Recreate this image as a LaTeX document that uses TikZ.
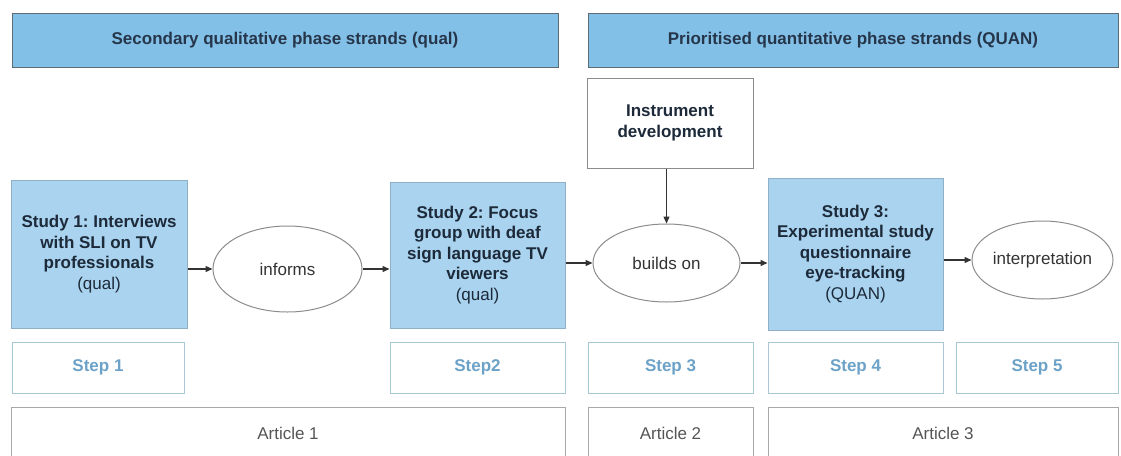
\documentclass[tikz,border=0pt]{standalone}
\usepackage{fontspec}
\setsansfont{Liberation Sans}
\usepackage{tikz}
\usetikzlibrary{positioning,arrows.meta,shapes.geometric,calc}
\frenchspacing
\definecolor{headFill}{HTML}{83C0E8}
\definecolor{headLine}{HTML}{5F6B73}
\definecolor{headText}{HTML}{26364A}
\definecolor{studyFill}{HTML}{A9D3EE}
\definecolor{studyLine}{HTML}{8FB0C6}
\definecolor{studyText}{HTML}{1D2A3A}
\definecolor{ovalLine}{HTML}{8C8C8C}
\definecolor{stepLine}{HTML}{A8C8D8}
\definecolor{stepText}{HTML}{6DA2C8}
\definecolor{artLine}{HTML}{A8A8A8}
\definecolor{artText}{HTML}{555555}
\definecolor{flowCol}{HTML}{333333}
\tikzset{
  base/.style={font=\sffamily\fontsize{17}{20.5}\selectfont, align=center,
    inner sep=0pt, line width=1pt},
  header/.style={base, draw=headLine, fill=headFill, text=headText,
    font=\sffamily\bfseries\fontsize{17}{20.5}\selectfont, minimum height=54pt},
  study/.style={base, draw=studyLine, fill=studyFill, text=studyText,
    font=\sffamily\bfseries\fontsize{17}{20.5}\selectfont},
  instr/.style={base, draw=ovalLine, fill=white, text=studyText,
    font=\sffamily\bfseries\fontsize{17}{20.5}\selectfont},
  oval/.style={base, ellipse, draw=ovalLine, text=black!80},
  stepbox/.style={base, draw=stepLine, text=stepText, minimum height=51pt,
    font=\sffamily\bfseries\fontsize{17}{20.5}\selectfont},
  article/.style={base, draw=artLine, text=artText, minimum height=52pt},
  flow/.style={-{Triangle[length=7pt, width=6pt]}, line width=1.3pt, draw=flowCol},
}
\begin{document}
\begin{tikzpicture}[x=1pt, y=-1pt]
  \useasboundingbox (0,0) rectangle (1121,455);
  \clip (0,0) rectangle (1121,455);
  % phase headers
  \node[header, minimum width=546pt] (qual) at (285,40) {Secondary qualitative phase strands (qual)};
  \node[header, minimum width=530pt] (quan) at (853,40) {Prioritised quantitative phase strands (QUAN)};
  % studies and links
  \node[study, minimum width=176pt, minimum height=148pt] (study1) at (99,254)
    {Study 1: Interviews\\ with SLI on TV\\ professionals\\ \mdseries(qual)};
  \node[oval, minimum width=149pt, minimum height=86pt] (informs) at (287.5,269) {informs};
  \node[study, minimum width=175pt, minimum height=146pt] (study2) at (477.5,255)
    {Study 2: Focus\\ group with deaf\\ sign language TV\\ viewers\\ \mdseries(qual)};
  \node[instr, minimum width=166pt, minimum height=90pt] (instr) at (670,123)
    {Instrument\\ development};
  \node[oval, minimum width=147pt, minimum height=78pt] (builds) at (666.5,263) {builds on};
  \node[study, minimum width=175pt, minimum height=152pt] (study3) at (855.5,254)
    {Study 3:\\ Experimental study\\ questionnaire\\ eye-tracking\\ \mdseries(QUAN)};
  \node[oval, minimum width=141pt, minimum height=78pt] (interp) at (1042.5,260) {interpretation};
  \draw[flow] (study1.east |- informs.west) -- (informs.west);
  \draw[flow] (informs.east) -- (informs.east -| study2.west);
  \draw[flow] (study2.east |- builds.west) -- (builds.west);
  \draw[flow] (builds.east) -- (builds.east -| study3.west);
  \draw[flow] (study3.east |- interp.west) -- (interp.west);
  \draw[flow] (instr.south -| builds.north) -- (builds.north);
  % steps
  \node[stepbox, minimum width=172pt] (step1) at (98,367.5) {Step 1};
  \node[stepbox, minimum width=175pt] (step2) at (477.5,367.5) {Step2};
  \node[stepbox, minimum width=165pt] (step3) at (670.5,367.5) {Step 3};
  \node[stepbox, minimum width=175pt] (step4) at (855.5,367.5) {Step 4};
  \node[stepbox, minimum width=162pt] (step5) at (1037,367.5) {Step 5};
  % articles
  \node[article, minimum width=554pt] (art1) at (288,433) {Article 1};
  \node[article, minimum width=165pt] (art2) at (670.5,433) {Article 2};
  \node[article, minimum width=350pt] (art3) at (943,433) {Article 3};
\end{tikzpicture}
\end{document}
